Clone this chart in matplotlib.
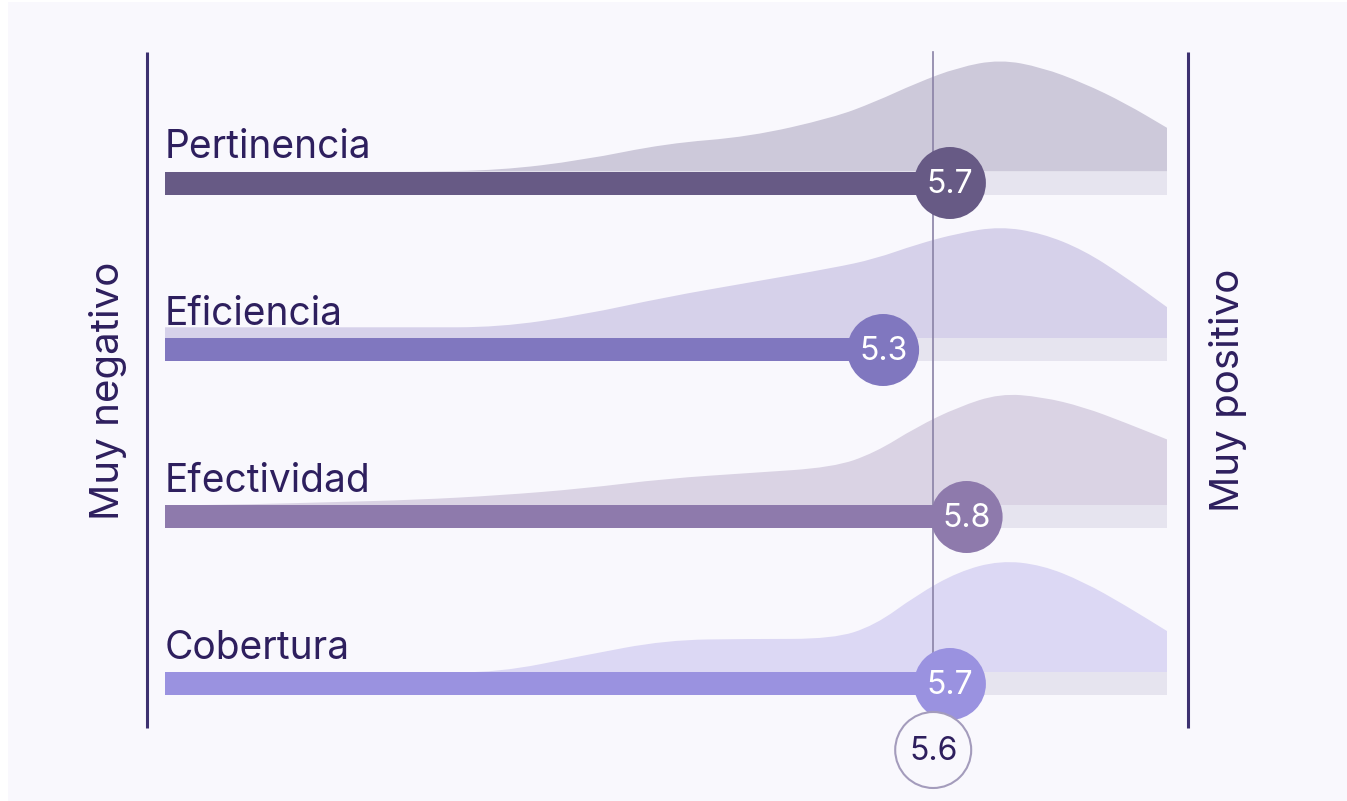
import numpy as np
import matplotlib.pyplot as plt
from matplotlib.patches import Circle, Rectangle, PathPatch
from matplotlib.path import Path

# Data
categories = ['Pertinencia', 'Eficiencia', 'Efectividad', 'Cobertura']
scores = [5.7, 5.3, 5.8, 5.7]
overall = 5.6

# density grid (scale 1-7) and relative density per category (peak = 1)
grid = [1, 1.5, 2, 2.5, 3, 3.5, 4, 4.5, 5, 5.25, 5.5, 5.75, 6, 6.25, 6.5, 6.75, 7]
dens_pertinencia = [0, 0, 0, 0, 0.01, 0.10, 0.25, 0.31, 0.48, 0.62, 0.79, 0.93, 1.0, 0.93, 0.79, 0.61, 0.39]
dens_eficiencia = [0.10, 0.10, 0.10, 0.10, 0.10, 0.21, 0.37, 0.50, 0.63, 0.71, 0.84, 0.94, 1.0, 0.94, 0.79, 0.55, 0.28]
dens_efectividad = [0, 0.01, 0.03, 0.05, 0.09, 0.15, 0.24, 0.29, 0.34, 0.47, 0.70, 0.88, 1.0, 0.97, 0.88, 0.74, 0.59]
dens_cobertura = [0, 0, 0, 0, 0, 0.15, 0.29, 0.30, 0.30, 0.42, 0.69, 0.90, 1.0, 0.96, 0.81, 0.60, 0.37]
densities = [dens_pertinencia, dens_eficiencia, dens_efectividad, dens_cobertura]

# Styles
bar_colors = ['#675a85', '#8077bf', '#8e7aac', '#9a92e0']
area_colors = ['#cdc9da', '#d6d1ea', '#dad3e4', '#dcd8f4']
track_color = '#e6e4ef'
text_color = '#2e1f5e'
line_color = '#3d3170'
bg = '#f9f8fd'
font = ['Inter', 'DejaVu Sans']

W, H, DPI = 1347, 801, 100
U = 167.0  # pixels per scale unit (same on both axes)


def ridge_path(xs, tops, base):
    # smooth top edge: quadratic curves through the midpoints
    pts = list(zip(xs, tops))
    verts = [(xs[0], base), pts[0]]
    codes = [Path.MOVETO, Path.LINETO]
    mid = lambda a, b: ((a[0] + b[0]) / 2, (a[1] + b[1]) / 2)
    verts.append(mid(pts[0], pts[1]))
    codes.append(Path.LINETO)
    for k in range(1, len(pts) - 1):
        verts += [pts[k], mid(pts[k], pts[k + 1])]
        codes += [Path.CURVE3, Path.CURVE3]
    verts += [pts[-1], (xs[-1], base), (xs[0], base)]
    codes += [Path.LINETO, Path.LINETO, Path.CLOSEPOLY]
    return Path(verts, codes)


fig = plt.figure(figsize=(W / DPI, H / DPI), dpi=DPI)
fig.patch.set_facecolor('white')
fig.patches.append(Rectangle((8 / W, 0), 1 - 8 / W, 1 - 2 / H,
                             transform=fig.transFigure, facecolor=bg,
                             edgecolor='none', zorder=-10))
ax = fig.add_axes([0, 0, 1, 1])
ax.set_facecolor('none')
ax.set_xlim(1 - 165 / U, 1 + (W - 165) / U)
ax.set_ylim(H / U, 0)
ax.axis('off')

row0 = 183 / U
row_gap = 1.0
bar_h = 23 / U
dens_h = 112 / U
r_dot = 36 / U
gx = np.array(grid, dtype=float)

for i, cat in enumerate(categories):
    yc = row0 + i * row_gap
    base = yc - bar_h / 2
    d = np.array(densities[i])
    ax.add_patch(PathPatch(ridge_path(gx, base - d * dens_h, base),
                           facecolor=area_colors[i], edgecolor='none', zorder=1))
    ax.add_patch(Rectangle((1, base), 6, bar_h, facecolor=track_color, edgecolor='none', zorder=2))
    ax.add_patch(Rectangle((1, base), scores[i] - 1, bar_h, facecolor=bar_colors[i], edgecolor='none', zorder=3))
    ax.add_patch(Circle((scores[i], yc), r_dot, facecolor=bar_colors[i], edgecolor='none', zorder=5))
    ax.text(scores[i], yc + 0.01, f'{scores[i]:.1f}', color='white', fontsize=23,
            ha='center', va='center', family=font, zorder=6)
    ax.text(1, base - 13 / U, cat, color=text_color, fontsize=28,
            ha='left', va='baseline', family=font, zorder=6)

# overall average line and marker
y_top = 52 / U
y_bot = 728 / U
ov_y = 750 / U
ax.plot([overall, overall], [y_top, ov_y - 38 / U], color='#8a82a6', lw=1.2, zorder=4)
ax.add_patch(Circle((overall, ov_y), 38 / U, facecolor=bg, edgecolor='#a49cbc', lw=1.5, zorder=5))
ax.text(overall, ov_y + 0.01, f'{overall:.1f}', color=text_color, fontsize=23,
        ha='center', va='center', family=font, zorder=6)

# boundary lines
left_x = 1 - 18 / U
right_x = 7 + 21 / U
ax.plot([left_x, left_x], [y_top, y_bot], color=line_color, lw=2.2, solid_capstyle='butt')
ax.plot([right_x, right_x], [y_top, y_bot], color=line_color, lw=2.2, solid_capstyle='butt')
ax.text(1 - 57 / U, 391 / U, 'Muy negativo', rotation=90, color=text_color, fontsize=29,
        ha='center', va='center', family=font)
ax.text(7 + 61 / U, 390 / U, 'Muy positivo', rotation=90, color=text_color, fontsize=29,
        ha='center', va='center', family=font)

fig.savefig('out.png', dpi=DPI, facecolor=fig.get_facecolor())
